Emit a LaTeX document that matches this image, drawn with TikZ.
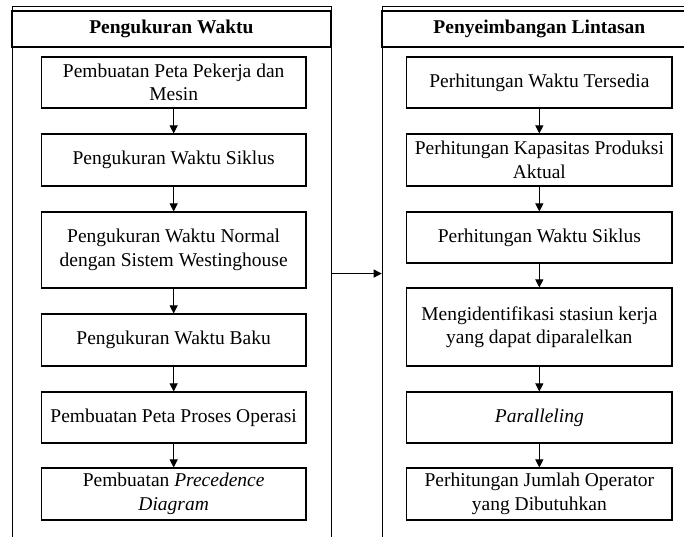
\documentclass[tikz,border=0pt]{standalone}
\usepackage{fontspec}
\setmainfont{Liberation Serif}
\usetikzlibrary{arrows.meta}
\begin{document}
\begin{tikzpicture}[x=1pt,y=-1pt,
  frame/.style={draw, line width=1.1pt, inner sep=0pt, anchor=north west},
  titlebox/.style={draw, line width=1.1pt, inner sep=0pt, minimum height=36pt, font=\fontsize{19.5}{23.5}\selectfont\bfseries},
  stepbox/.style={draw, line width=1.1pt, align=center, inner sep=0pt, font=\fontsize{19.5}{23.5}\selectfont},
  lbox/.style={stepbox, minimum width=264.7pt},
  rbox/.style={stepbox, minimum width=265.3pt},
  arr/.style={-{Triangle[length=8pt,width=8pt]}, line width=1pt}]
\path[use as bounding box, clip] (0,0) rectangle (684,536);
% containers
\node[frame, minimum width=319.3pt, minimum height=534pt] (lc) at (11.7,6) {};
\node[frame, minimum width=315.3pt, minimum height=534pt] (rc) at (381.7,6) {};
\node[titlebox, minimum width=319.3pt] (lt) at (171.35,29) {Pengukuran Waktu};
\node[titlebox, minimum width=315.3pt] (rt) at (539.35,29) {Penyeimbangan Lintasan};
% left steps
\node[lbox, minimum height=51pt] (l1) at (173.65,82.5) {Pembuatan Peta Pekerja dan\\Mesin};
\node[lbox, minimum height=52pt] (l2) at (173.65,160) {Pengukuran Waktu Siklus};
\node[lbox, minimum height=76pt] (l3) at (173.65,250) {Pengukuran Waktu Normal\\dengan Sistem Westinghouse};
\node[lbox, minimum height=52pt] (l4) at (173.65,340) {Pengukuran Waktu Baku};
\node[lbox, minimum height=51pt] (l5) at (173.65,417.5) {Pembuatan Peta Proses Operasi};
\node[lbox, minimum height=52pt] (l6) at (173.65,494) {Pembuatan \textit{Precedence}\\\textit{Diagram}};
% right steps
\node[rbox, minimum height=51pt] (r1) at (539.35,82.5) {Perhitungan Waktu Tersedia};
\node[rbox, minimum height=52pt] (r2) at (539.35,160) {Perhitungan Kapasitas Produksi\\Aktual};
\node[rbox, minimum height=51pt] (r3) at (539.35,237.5) {Perhitungan Waktu Siklus};
\node[rbox, minimum height=78pt] (r4) at (539.35,327) {Mengidentifikasi stasiun kerja\\yang dapat diparalelkan};
\node[rbox, minimum height=51pt] (r5) at (539.35,417.5) {\textit{Paralleling}};
\node[rbox, minimum height=52pt] (r6) at (539.35,494) {Perhitungan Jumlah Operator\\yang Dibutuhkan};
% connectors
\draw[arr] (l1) -- (l2);
\draw[arr] (l2) -- (l3);
\draw[arr] (l3) -- (l4);
\draw[arr] (l4) -- (l5);
\draw[arr] (l5) -- (l6);
\draw[arr] (r1) -- (r2);
\draw[arr] (r2) -- (r3);
\draw[arr] (r3) -- (r4);
\draw[arr] (r4) -- (r5);
\draw[arr] (r5) -- (r6);
\draw[arr] (lc.east) -- (rc.west);
\end{tikzpicture}
\end{document}
